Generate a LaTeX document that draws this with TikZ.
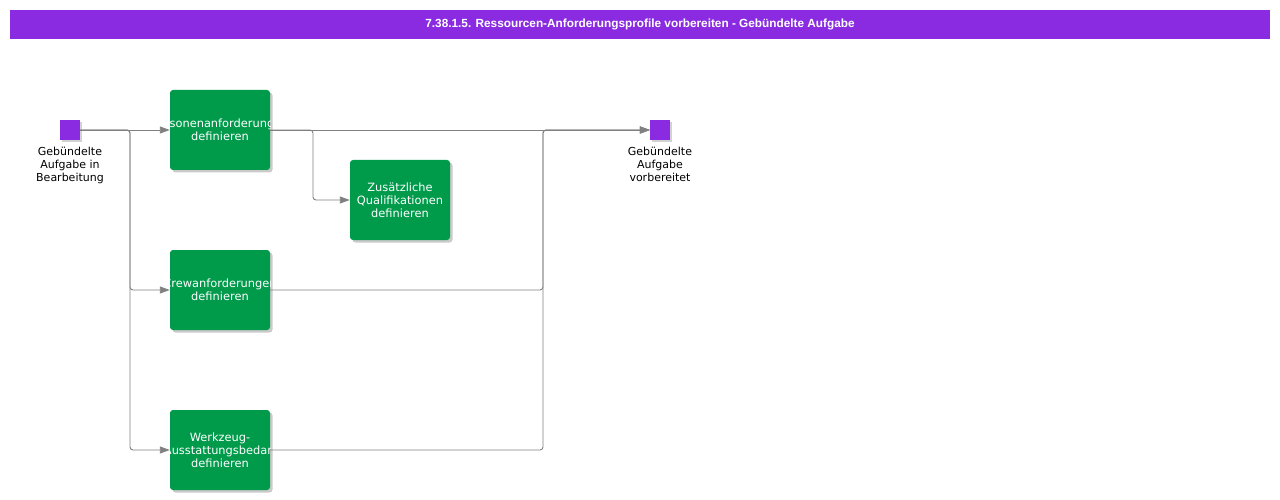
\documentclass[tikz,border=0pt]{standalone}
\usepackage{fontspec}
\setmainfont{DejaVu Sans}
\newfontfamily\titlefont{Liberation Sans}
\usetikzlibrary{arrows.meta}
\usetikzlibrary{positioning}
\usetikzlibrary{shadows}
\definecolor{eventviolet}{HTML}{8A2BE2}
\definecolor{taskgreen}{HTML}{009A4B}
\definecolor{flowgray}{HTML}{808080}

\begin{document}
\begin{tikzpicture}[x=1pt,y=-1pt,>={Triangle[length=10pt,width=7pt]},
	task/.style={rectangle,rounded corners=3pt,fill=taskgreen,minimum width=100pt,minimum height=80pt,inner sep=0pt,
		drop shadow={shadow xshift=2.5pt,shadow yshift=-2.5pt,fill=black!35,opacity=0.6}},
	tasklabel/.style={path picture={\node[text=white,align=center,font=\fontsize{11.4}{13}\selectfont] at (path picture bounding box.center) {#1};}},
	event/.style={rectangle,fill=eventviolet,minimum size=20pt,inner sep=0pt,
		drop shadow={shadow xshift=2pt,shadow yshift=-2pt,fill=black!35,opacity=0.5}},
	eventtext/.style={align=center,font=\fontsize{11}{13}\selectfont,inner sep=0pt},
	flow/.style={draw=flowgray,line width=0.9pt,rounded corners=3pt}]
	\useasboundingbox (0,0) rectangle (1280,500);
	\node[fill=eventviolet,minimum width=1260pt,minimum height=29.5pt,inner sep=0pt,text=white,font=\titlefont\bfseries\fontsize{11.8}{14}\selectfont] (title) at (640,24.75) {7.38.1.5. Ressourcen-Anforderungsprofile vorbereiten - Gebündelte Aufgabe};
	% events
	\node[event] (start) at (70,130) {};
	\node[eventtext,below=7pt of start] (startl) {Gebündelte\\Aufgabe in\\Bearbeitung};
	\node[event] (end) at (660,130) {};
	\node[eventtext,below=7pt of end] (endl) {Gebündelte\\Aufgabe\\vorbereitet};
	% tasks
	\node[task,tasklabel={Personenanforderungen\\definieren}] (person) at (220,130) {};
	\node[task,tasklabel={Zusätzliche\\Qualifikationen\\definieren}] (quali) at (400,200) {};
	\node[task,tasklabel={Crewanforderungen\\definieren}] (crew) at (220,290) {};
	\node[task,tasklabel={Werkzeug-\\Ausstattungsbedarf\\definieren}] (tool) at (220,450) {};
	% forks and joins
	\coordinate (fork1) at (130,130);
	\coordinate (fork2) at (313,130);
	\coordinate (join) at (543,130);
	\draw[flow,->] (start) -- (person);
	\draw[flow,->] (start) -- (fork1) |- (crew);
	\draw[flow,->] (start) -- (fork1) |- (tool);
	\draw[flow,->] (person) -- (end);
	\draw[flow,->] (person) -- (fork2) |- (quali);
	\draw[flow,->] (crew) -| (join) -- (end);
	\draw[flow,->] (tool) -| (join) -- (end);
\end{tikzpicture}
\end{document}
